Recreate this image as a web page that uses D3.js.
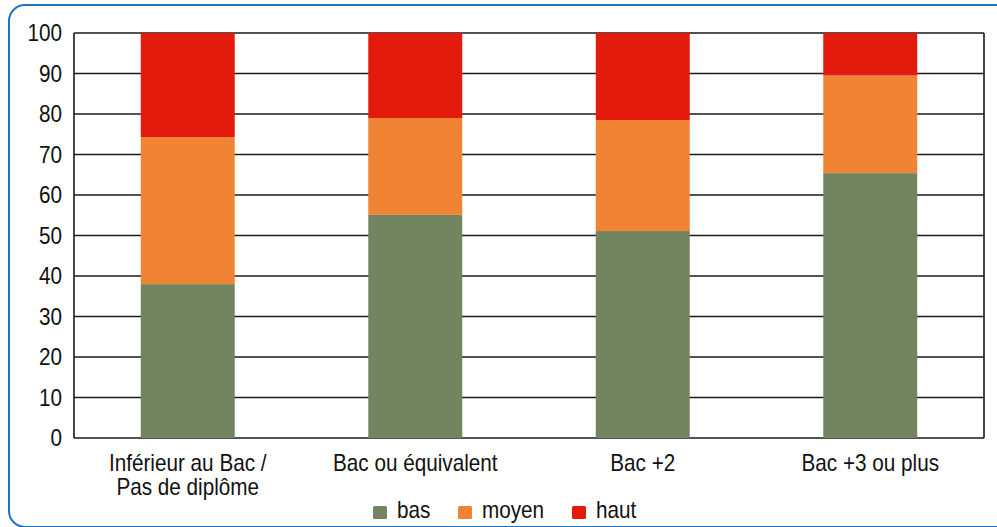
<!DOCTYPE html>
<html><head><meta charset="utf-8">
<script src="https://cdn.jsdelivr.net/npm/d3@7"></script>
<style>body{margin:0;background:#fff;} svg text{font-family:"Liberation Sans",Arial,sans-serif;fill:#111;font-size:23px;}</style>
</head><body>
<svg id="c" width="997" height="527"></svg>
<script>
const categories = [["Inférieur au Bac /","Pas de diplôme"],["Bac ou équivalent"],["Bac +2"],["Bac +3 ou plus"]];
const seriesNames = ["bas","moyen","haut"];
const bas = [38.0, 55.1, 51.1, 65.4];
const moyen = [36.3, 23.9, 27.4, 24.1];
const haut = [25.7, 21.0, 21.5, 10.5];
const yTicks = [0,10,20,30,40,50,60,70,80,90,100];
const colors = ["#738560","#f08434","#e31b0d"];
const SX = 0.9;

const svg = d3.select("#c");
svg.append("rect").attr("x",9).attr("y",5).attr("width",1010).attr("height",522).attr("rx",16)
  .attr("fill","none").attr("stroke","#1b76bf").attr("stroke-width",2);

const L=74,R=984,T=33,B=438;
const x = d3.scaleBand().domain(d3.range(categories.length)).range([L,R]).paddingInner(0.587).paddingOuter(0.2935);
const y = d3.scaleLinear().domain([0,100]).range([B,T]);

const rows = categories.map((c,i)=>({i,bas:bas[i],moyen:moyen[i],haut:haut[i]}));
const stack = d3.stack().keys(seriesNames)(rows);

svg.append("g").selectAll("line").data(yTicks).join("line")
  .attr("x1",L).attr("x2",R).attr("y1",d=>y(d)).attr("y2",d=>y(d))
  .attr("stroke","#1a1a1a").attr("stroke-width",1.6);

svg.append("g").selectAll("g").data(stack).join("g").attr("fill",(d,k)=>colors[k])
  .selectAll("rect").data(d=>d).join("rect")
  .attr("x",d=>x(d.data.i)).attr("width",x.bandwidth())
  .attr("y",d=>y(d[1])).attr("height",d=>y(d[0])-y(d[1]));

svg.append("line").attr("x1",L).attr("x2",L).attr("y1",T).attr("y2",B).attr("stroke","#1a1a1a").attr("stroke-width",1.6);
svg.append("line").attr("x1",R).attr("x2",R).attr("y1",T).attr("y2",B).attr("stroke","#1a1a1a").attr("stroke-width",1.6);

function txt(g,px,py,s,anchor){
  return g.append("text").attr("transform",`translate(${px},${py}) scale(${SX},1)`)
    .attr("text-anchor",anchor||"start").text(s);
}

// y axis labels
const ya = svg.append("g");
yTicks.forEach(v=>txt(ya,62,y(v)+8,v,"end"));

// x labels
const xa = svg.append("g");
categories.forEach((lines,i)=>{
  const cx = x(i)+x.bandwidth()/2;
  lines.forEach((ln,j)=>txt(xa,cx,471+j*24,ln,"middle"));
});

// legend
const legX = [373,458,572];
const lg = svg.append("g");
seriesNames.forEach((s,k)=>{
  lg.append("rect").attr("x",legX[k]).attr("y",506).attr("width",14).attr("height",13).attr("rx",1.5).attr("fill",colors[k]);
  txt(lg,legX[k]+24,518,s);
});
</script>
</body></html>
